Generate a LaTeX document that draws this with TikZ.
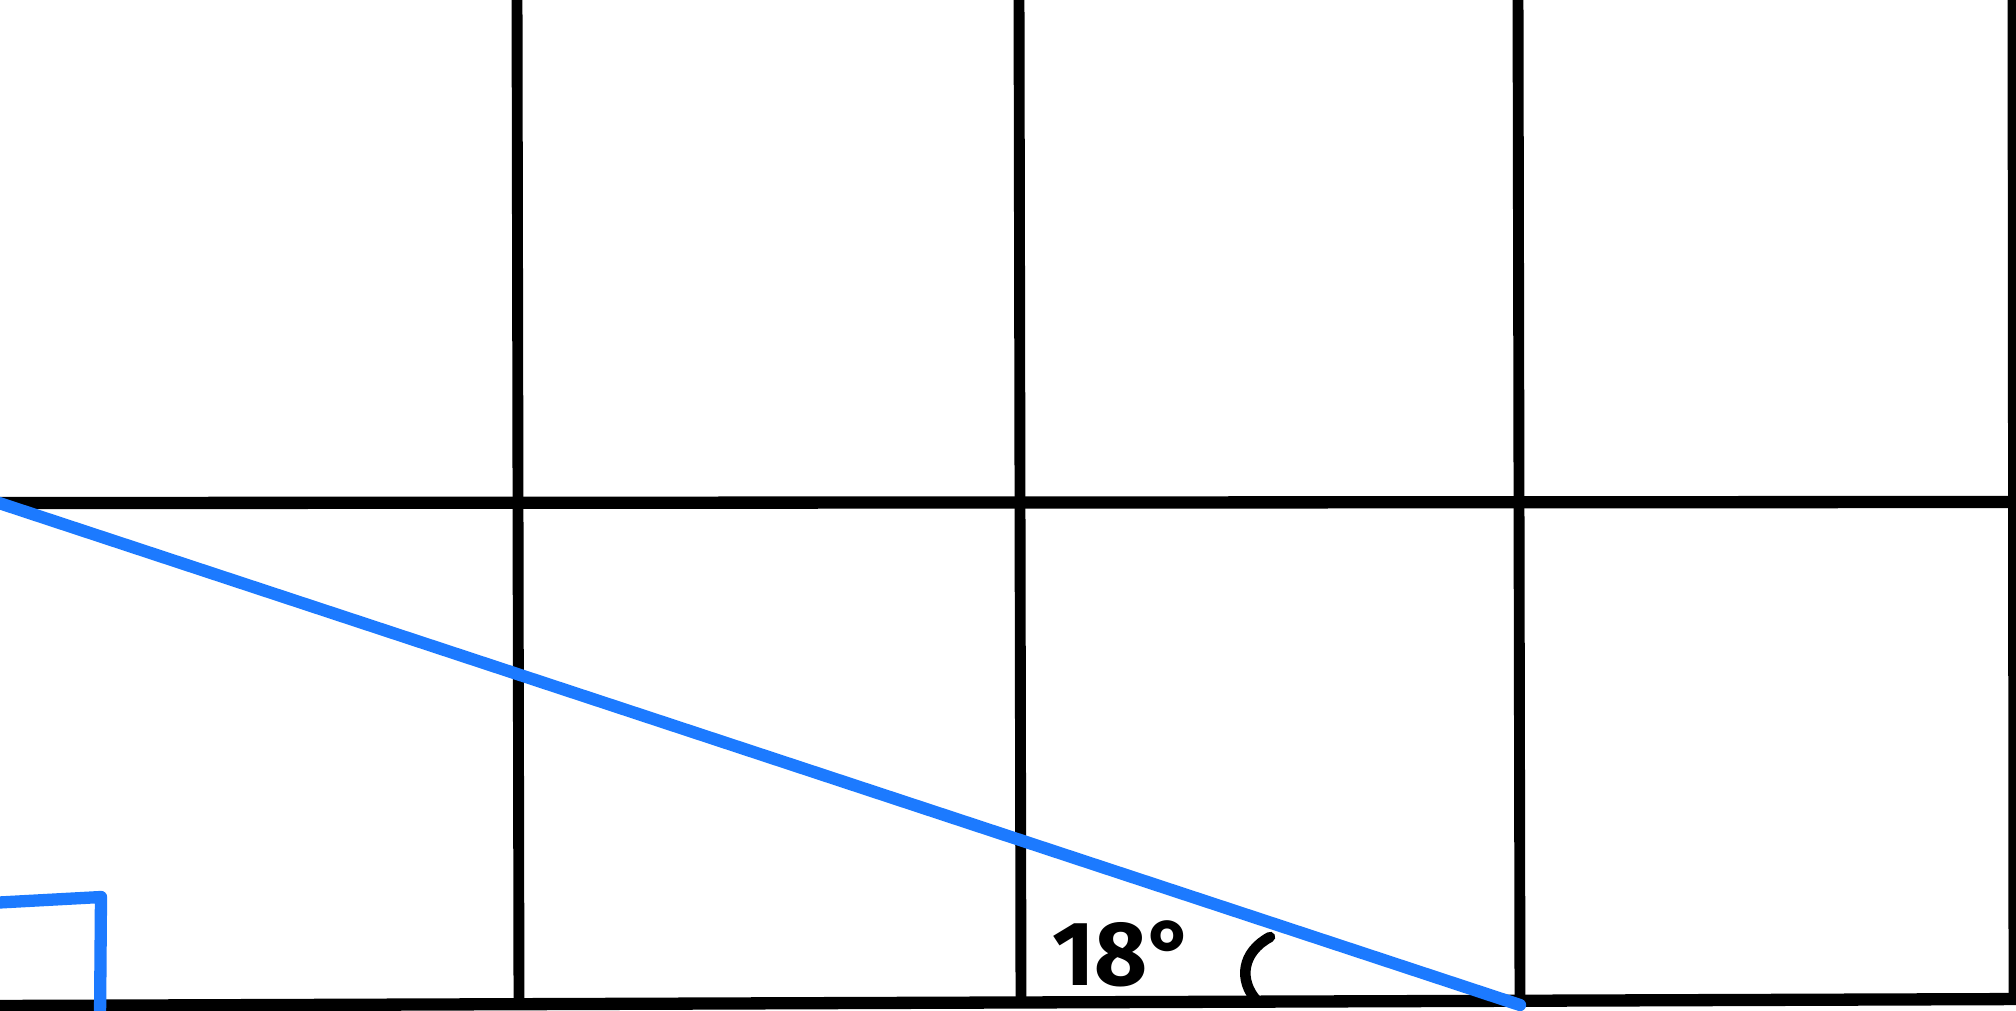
\documentclass[tikz,border=0pt]{standalone}
\usepackage{fontspec}
\setmainfont{Fira Sans}
\definecolor{penblue}{RGB}{28,122,255}
\begin{document}
\begin{tikzpicture}[x=0.02cm,y=-0.02cm,
  gridline/.style={line width=6.2pt,black},
  hline/.style={line width=7pt,black},
  blueline/.style={line width=7pt,penblue,line cap=round,line join=round},
  inkline/.style={line width=6pt,black,line cap=round}]
\useasboundingbox (0,0) rectangle (2016,1011);
% coordinates
\coordinate (v1t) at (517,-10); \coordinate (v1b) at (519,1005);
\coordinate (v2t) at (1019,-10); \coordinate (v2b) at (1021,1004);
\coordinate (v3t) at (1518,-10); \coordinate (v3b) at (1520,1003);
\coordinate (v4t) at (2013,-10); \coordinate (v4b) at (2014,1002);
\coordinate (hml) at (-10,503); \coordinate (hmr) at (2030,502);
\coordinate (hbl) at (-10,1006); \coordinate (hbr) at (2030,999);
\coordinate (bs) at (-10,500); \coordinate (be) at (1520,1005);
\coordinate (m1) at (-10,903); \coordinate (m2) at (101,897); \coordinate (m3) at (100,1020);
\coordinate (a1) at (1270,937); \coordinate (a2) at (1257,1001);
% grid
\draw[gridline] (v1t) -- (v1b);
\draw[gridline] (v2t) -- (v2b);
\draw[gridline] (v3t) -- (v3b);
\draw[gridline] (v4t) -- (v4b);
\draw[hline] (hml) -- (hmr);
\draw[hline] (hbl) -- (hbr);
% blue
\draw[blueline] (bs) -- (be);
\draw[blueline] (m1) -- (m2) -- (m3);
% angle arc
\draw[inkline] (a1) .. controls (1242,952) and (1238,980) .. (a2);
% label
\node[font=\fontsize{52}{52}\selectfont\bfseries,anchor=base,inner sep=0pt] (lbl) at (1124,985) {18°};
\end{tikzpicture}
\end{document}
